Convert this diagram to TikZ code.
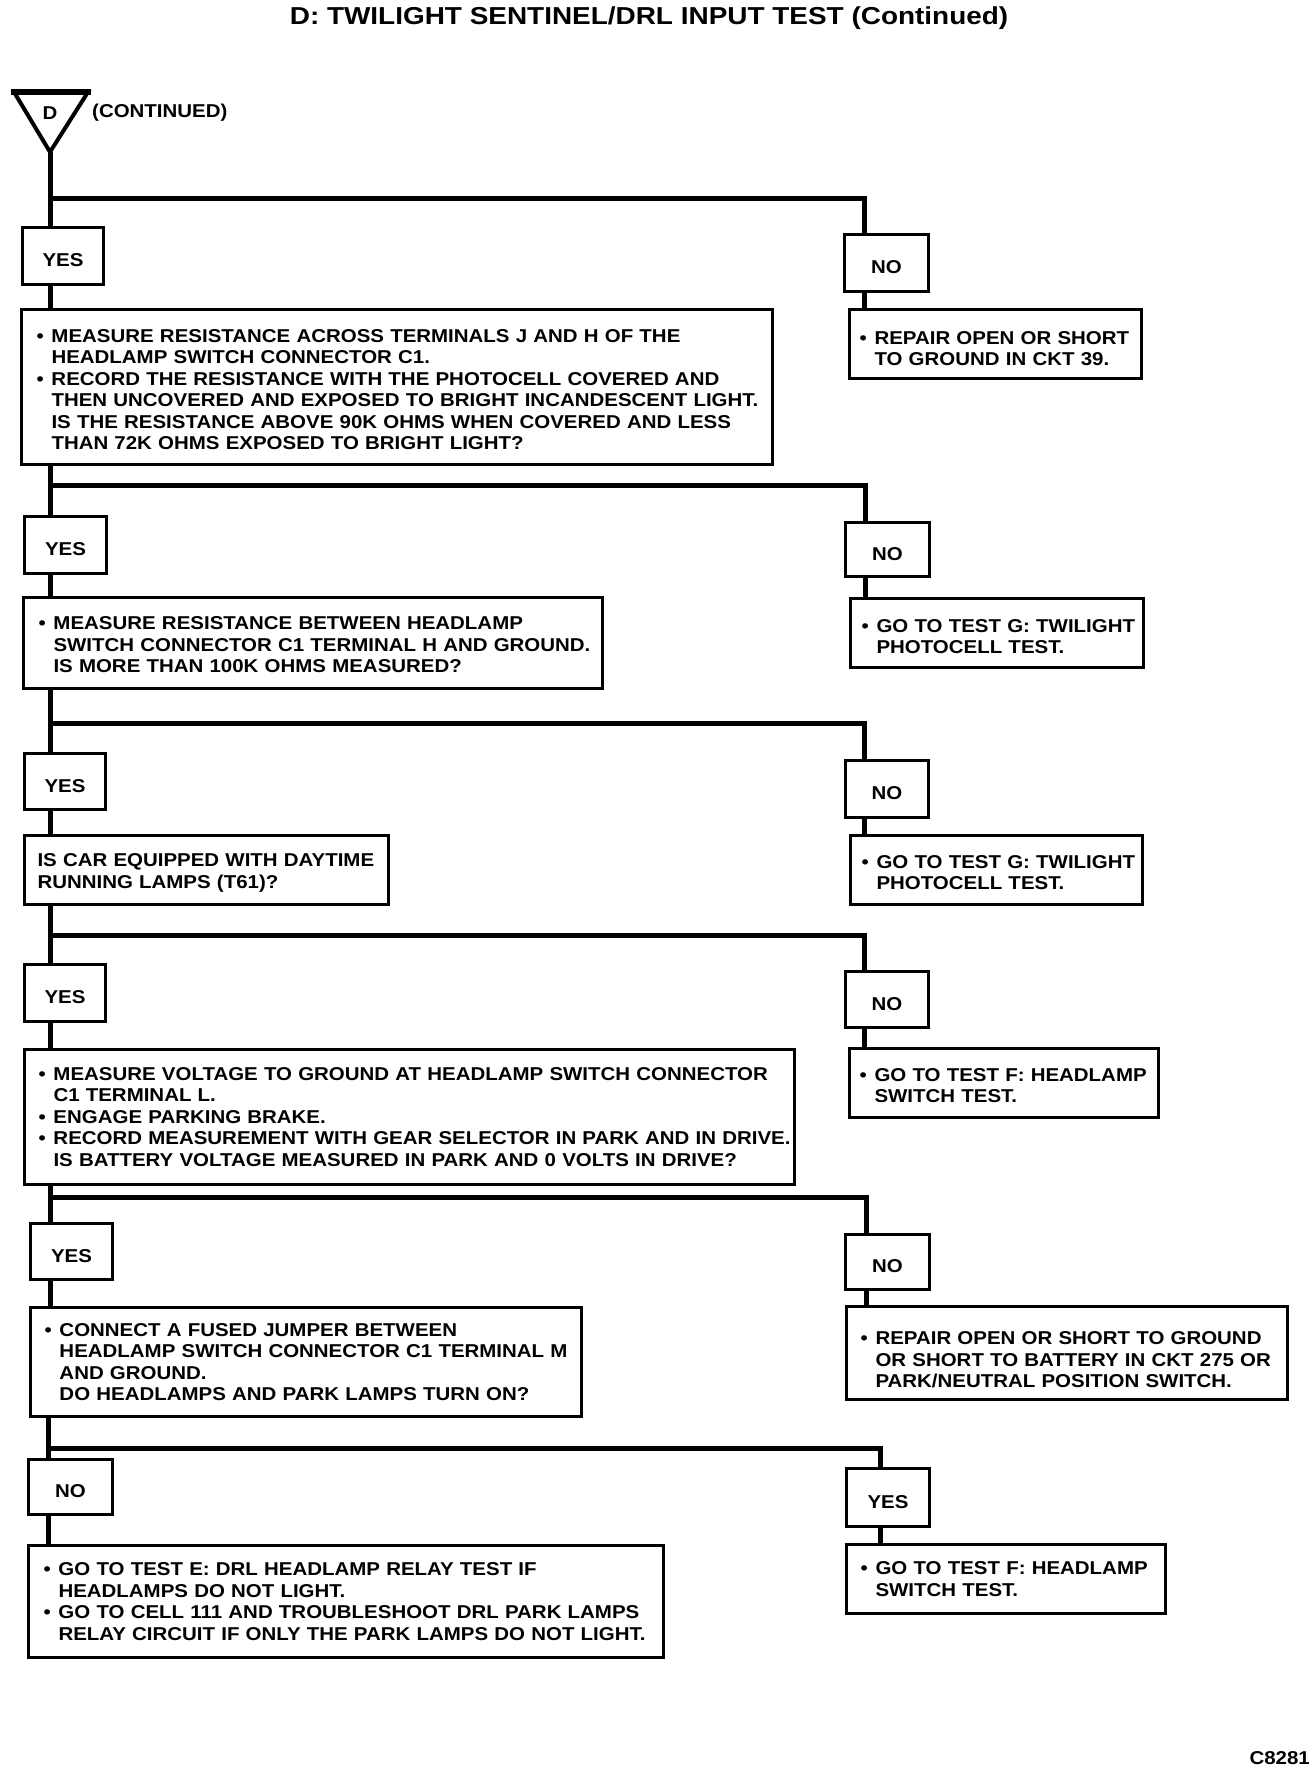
\documentclass[tikz,border=0pt]{standalone}
\usepackage{fontspec}
\newfontfamily\bxf{Liberation Sans}[FakeStretch=1.10]
\newfontfamily\ttlf{Liberation Sans}[FakeStretch=1.14]
\newcommand\bulline[1]{\mbox{\makebox[15pt][l]{•}#1}}
\newcommand\contline[1]{\mbox{\hspace{15pt}#1}}
\newcommand\plainline[1]{\mbox{#1}}
\newcommand\lift[1]{\rule{0pt}{#1}}
\tikzset{
  conn/.style={line width=5pt, line join=miter},
  lab/.style={draw, line width=3pt, anchor=north west, inner sep=0pt,
    text height=21pt, text depth=0pt,
    font=\bxf\bfseries\fontsize{18.6}{21.5}\selectfont},
  txtbox/.style={draw, line width=3pt, anchor=north west, align=left, inner ysep=0pt,
    font=\bxf\bfseries\fontsize{18.6}{21.5}\selectfont},
  plain/.style={inner sep=0pt, font=\bxf\bfseries\fontsize{18.6}{21.5}\selectfont}
}
\begin{document}
\begin{tikzpicture}[x=1pt,y=-1pt]
\useasboundingbox[fill=white] (0,0) rectangle (1312,1772);

% title
\node[inner sep=0pt, font=\ttlf\bfseries\fontsize{24.5}{28}\selectfont] (title) at (649,18) {D: TWILIGHT SENTINEL/DRL INPUT TEST (Continued)};

% start triangle
\draw[line width=4pt, line join=miter] (14,92) -- (88,92) -- (50,152) -- cycle;
\draw[line width=6pt] (11,92) -- (91,92);
\coordinate (apex) at (50,152);
\node[plain] (dlab) at (50,113) {D};
\node[plain, anchor=west] (cont) at (92,113) {(CONTINUED)};

% junction coordinates
\coordinate (j1) at (50,198);  \coordinate (r1) at (864,198);
\coordinate (j2) at (50,485);  \coordinate (r2) at (865,485);
\coordinate (j3) at (50,723);  \coordinate (r3) at (864,723);
\coordinate (j4) at (50,935);  \coordinate (r4) at (864,935);
\coordinate (j5) at (50,1197); \coordinate (r5) at (866,1197);
\coordinate (j6) at (48,1448); \coordinate (r6) at (880,1448);

% YES / NO boxes
\node[lab, minimum width=81pt, minimum height=57pt] (yes1) at (21,226) {YES};
\node[lab, minimum width=84pt, minimum height=57pt] (no1) at (843,233) {NO};
\node[lab, minimum width=82pt, minimum height=57pt] (yes2) at (23,515) {YES};
\node[lab, minimum width=84pt, minimum height=54pt] (no2) at (844,521) {NO};
\node[lab, minimum width=81pt, minimum height=56pt] (yes3) at (23,752) {YES};
\node[lab, minimum width=83pt, minimum height=57pt] (no3) at (844,759) {NO};
\node[lab, minimum width=81pt, minimum height=57pt] (yes4) at (23,963) {YES};
\node[lab, minimum width=83pt, minimum height=56pt] (no4) at (844,970) {NO};
\node[lab, minimum width=82pt, minimum height=56pt] (yes5) at (29,1222) {YES};
\node[lab, minimum width=84pt, minimum height=55pt] (no5) at (844,1233) {NO};
\node[lab, minimum width=84pt, minimum height=55pt] (no6) at (27,1458) {NO};
\node[lab, minimum width=83pt, minimum height=58pt] (yes6) at (845,1467) {YES};

% main boxes
\node[txtbox, inner xsep=15pt, text width=721pt, minimum height=155pt] (b1) at (20,308) {%
\lift{18pt}\bulline{MEASURE RESISTANCE ACROSS TERMINALS J AND H OF THE}\\
\contline{HEADLAMP SWITCH CONNECTOR C1.}\\
\bulline{RECORD THE RESISTANCE WITH THE PHOTOCELL COVERED AND}\\
\contline{THEN UNCOVERED AND EXPOSED TO BRIGHT INCANDESCENT LIGHT.}\\
\contline{IS THE RESISTANCE ABOVE 90K OHMS WHEN COVERED AND LESS}\\
\contline{THAN 72K OHMS EXPOSED TO BRIGHT LIGHT?}};

\node[txtbox, inner xsep=15pt, text width=549pt, minimum height=91pt] (b2) at (22,596) {%
\lift{17pt}\bulline{MEASURE RESISTANCE BETWEEN HEADLAMP}\\
\contline{SWITCH CONNECTOR C1 TERMINAL H AND GROUND.}\\
\contline{IS MORE THAN 100K OHMS MEASURED?}};

\node[txtbox, inner xsep=13pt, text width=338pt, minimum height=69pt] (b3) at (23,834) {%
\lift{19pt}\plainline{IS CAR EQUIPPED WITH DAYTIME}\\
\plainline{RUNNING LAMPS (T61)?}};

\node[txtbox, inner xsep=14pt, text width=742pt, minimum height=135pt] (b4) at (23,1048) {%
\bulline{MEASURE VOLTAGE TO GROUND AT HEADLAMP SWITCH CONNECTOR}\\
\contline{C1 TERMINAL L.}\\
\bulline{ENGAGE PARKING BRAKE.}\\
\bulline{RECORD MEASUREMENT WITH GEAR SELECTOR IN PARK AND IN DRIVE.}\\
\contline{IS BATTERY VOLTAGE MEASURED IN PARK AND 0 VOLTS IN DRIVE?}};

\node[txtbox, inner xsep=14pt, text width=523pt, minimum height=109pt] (b5) at (29,1306) {%
\bulline{CONNECT A FUSED JUMPER BETWEEN}\\
\contline{HEADLAMP SWITCH CONNECTOR C1 TERMINAL M}\\
\contline{AND GROUND.}\\
\contline{DO HEADLAMPS AND PARK LAMPS TURN ON?}};

\node[txtbox, inner xsep=15pt, text width=605pt, minimum height=112pt] (b6) at (27,1544) {%
\bulline{GO TO TEST E: DRL HEADLAMP RELAY TEST IF}\\
\contline{HEADLAMPS DO NOT LIGHT.}\\
\bulline{GO TO CELL 111 AND TROUBLESHOOT DRL PARK LAMPS}\\
\contline{RELAY CIRCUIT IF ONLY THE PARK LAMPS DO NOT LIGHT.}};

% result boxes
\node[txtbox, inner xsep=10pt, text width=272pt, minimum height=69pt] (res1) at (848,308) {%
\lift{22pt}\bulline{REPAIR OPEN OR SHORT}\\
\contline{TO GROUND IN CKT 39.}};
\node[txtbox, inner xsep=11pt, text width=271pt, minimum height=69pt] (res2) at (849,597) {%
\lift{20pt}\bulline{GO TO TEST G: TWILIGHT}\\
\contline{PHOTOCELL TEST.}};
\node[txtbox, inner xsep=11pt, text width=270pt, minimum height=69pt] (res3) at (849,834) {%
\lift{18pt}\bulline{GO TO TEST G: TWILIGHT}\\
\contline{PHOTOCELL TEST.}};
\node[txtbox, inner xsep=10pt, text width=289pt, minimum height=69pt] (res4) at (848,1047) {%
\lift{18pt}\bulline{GO TO TEST F: HEADLAMP}\\
\contline{SWITCH TEST.}};
\node[txtbox, inner xsep=14pt, text width=413pt, minimum height=93pt] (res5) at (845,1305) {%
\lift{27pt}\bulline{REPAIR OPEN OR SHORT TO GROUND}\\
\contline{OR SHORT TO BATTERY IN CKT 275 OR}\\
\contline{PARK/NEUTRAL POSITION SWITCH.}};
\node[txtbox, inner xsep=14pt, text width=291pt, minimum height=69pt] (res6) at (845,1543) {%
\bulline{GO TO TEST F: HEADLAMP}\\
\contline{SWITCH TEST.}};

\node[plain, anchor=east] (code) at (1310,1758) {C8281};

% connectors
\draw[conn] (apex) -- (j1);
\draw[conn] (j1) -- (j1 |- yes1.north);
\draw[conn] (j1) -- (r1) -- (r1 |- no1.north);
\draw[conn] (yes1.south -| j1) -- (b1.north -| j1);
\draw[conn] (no1.south -| r1) -- (res1.north -| r1);

\draw[conn] (b1.south -| j2) -- (j2) -- (j2 |- yes2.north);
\draw[conn] (j2) -- (r2) -- (r2 |- no2.north);
\draw[conn] (yes2.south -| j2) -- (b2.north -| j2);
\draw[conn] (no2.south -| r2) -- (res2.north -| r2);

\draw[conn] (b2.south -| j3) -- (j3) -- (j3 |- yes3.north);
\draw[conn] (j3) -- (r3) -- (r3 |- no3.north);
\draw[conn] (yes3.south -| j3) -- (b3.north -| j3);
\draw[conn] (no3.south -| r3) -- (res3.north -| r3);

\draw[conn] (b3.south -| j4) -- (j4) -- (j4 |- yes4.north);
\draw[conn] (j4) -- (r4) -- (r4 |- no4.north);
\draw[conn] (yes4.south -| j4) -- (b4.north -| j4);
\draw[conn] (no4.south -| r4) -- (res4.north -| r4);

\draw[conn] (b4.south -| j5) -- (j5) -- (j5 |- yes5.north);
\draw[conn] (j5) -- (r5) -- (r5 |- no5.north);
\draw[conn] (yes5.south -| j5) -- (b5.north -| j5);
\draw[conn] (no5.south -| r5) -- (res5.north -| r5);

\draw[conn] (b5.south -| j6) -- (j6) -- (j6 |- no6.north);
\draw[conn] (j6) -- (r6) -- (r6 |- yes6.north);
\draw[conn] (no6.south -| j6) -- (b6.north -| j6);
\draw[conn] (yes6.south -| r6) -- (res6.north -| r6);
\end{tikzpicture}
\end{document}
